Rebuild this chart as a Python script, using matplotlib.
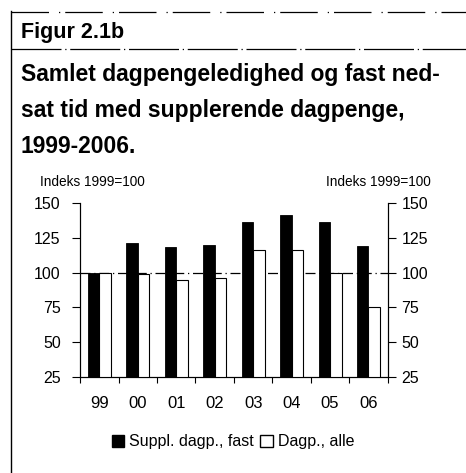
import matplotlib
matplotlib.use('Agg')
import matplotlib.pyplot as plt
from matplotlib.lines import Line2D
from matplotlib.patches import Patch
import numpy as np

plt.rcParams['font.family'] = ['Liberation Sans', 'DejaVu Sans']

# Data (index 1999=100)
years = ['99', '00', '01', '02', '03', '04', '05', '06']
suppl_fast = [100, 121, 118, 120, 136, 141, 136, 119]
dagp_alle = [100, 99, 95, 96, 116, 116, 100, 75]
y_ticks = [25, 50, 75, 100, 125, 150]

fig = plt.figure(figsize=(4.66, 4.73), dpi=100)
fig.patch.set_facecolor('white')

# frame lines around the figure box
fig.add_artist(Line2D([0.023, 1.0], [0.975, 0.975], color='black', lw=0.9,
                      linestyle=(0, (30, 8, 1, 4))))
fig.add_artist(Line2D([0.023, 1.0], [0.897, 0.897], color='black', lw=0.9,
                      linestyle=(0, (40, 3, 1, 3))))
fig.add_artist(Line2D([0.023, 0.023], [0.0, 0.976], color='black', lw=1.0))

fig.text(0.045, 0.931, 'Figur 2.1b', fontsize=15.5, fontweight='bold', va='center')
title_lines = ['Samlet dagpengeledighed og fast ned-',
               'sat tid med supplerende dagpenge,',
               '1999-2006.']
for i, line in enumerate(title_lines):
    fig.text(0.045, 0.843 - i * 0.076, line, fontsize=16.5, fontweight='bold', va='center')

fig.text(0.086, 0.615, 'Indeks 1999=100', fontsize=9.8, va='center')
fig.text(0.925, 0.615, 'Indeks 1999=100', fontsize=9.8, va='center', ha='right')

ax = fig.add_axes([0.172, 0.203, 0.660, 0.368])
x = np.arange(len(years))
w = 0.3
ax.bar(x - w / 2, suppl_fast, w, bottom=0, color='black', edgecolor='black',
       linewidth=0.6, zorder=3)
ax.bar(x + w / 2, dagp_alle, w, bottom=0, color='white', edgecolor='black',
       linewidth=0.8, zorder=3)
ax.axhline(100, color='black', lw=0.9, linestyle=(0, (8, 3, 1, 3)), zorder=1)

ax.set_ylim(25, 150)
ax.set_xlim(-0.5, len(years) - 0.5)
ax.set_yticks(y_ticks)
ax.tick_params(axis='y', labelsize=11.5, length=6, width=0.8, pad=8, direction='out')
ax.set_xticks(x)
ax.set_xticklabels(years)
ax.tick_params(axis='x', labelsize=12, length=0, pad=14)
ax.set_xticks(np.arange(len(years) + 1) - 0.5, minor=True)
ax.tick_params(axis='x', which='minor', length=4, width=0.8, direction='out')

ax2 = ax.twinx()
ax2.set_ylim(25, 150)
ax2.set_yticks(y_ticks)
ax2.tick_params(axis='y', labelsize=11.5, length=6, width=0.8, pad=4, direction='out')

for a in (ax, ax2):
    a.spines['top'].set_visible(False)
    for s in ('left', 'right', 'bottom'):
        a.spines[s].set_linewidth(0.8)

handles = [Patch(facecolor='black', edgecolor='black', label='Suppl. dagp., fast'),
           Patch(facecolor='white', edgecolor='black', label='Dagp., alle')]
fig.legend(handles=handles, loc='center', bbox_to_anchor=(0.5, 0.066), ncol=2,
           frameon=False, fontsize=11.5, handlelength=0.8, handleheight=0.8,
           handletextpad=0.3, columnspacing=0.4)

fig.savefig('out.png', dpi=100, facecolor='white')
